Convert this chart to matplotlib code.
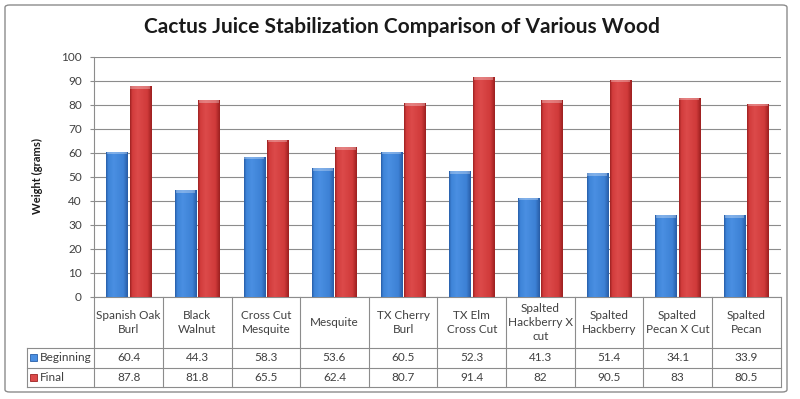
import numpy as np
import matplotlib
matplotlib.use("Agg")
import matplotlib.pyplot as plt
from matplotlib.colors import LinearSegmentedColormap
from matplotlib.transforms import blended_transform_factory
from matplotlib.patches import FancyBboxPatch, Rectangle
from matplotlib.lines import Line2D

categories = ["Spanish Oak\nBurl", "Black\nWalnut", "Cross Cut\nMesquite", "Mesquite",
              "TX Cherry\nBurl", "TX Elm\nCross Cut", "Spalted\nHackberry X\ncut",
              "Spalted\nHackberry", "Spalted\nPecan X Cut", "Spalted\nPecan"]
beginning = [60.4, 44.3, 58.3, 53.6, 60.5, 52.3, 41.3, 51.4, 34.1, 33.9]
final = [87.8, 81.8, 65.5, 62.4, 80.7, 91.4, 82, 90.5, 83, 80.5]
series_names = ["Beginning", "Final"]
title = "Cactus Juice Stabilization Comparison of Various Wood"
ylabel = "Weight (grams)"
yticks = list(range(0, 101, 10))

W, H = 800, 399
plt.rcParams['font.family'] = ['Lato', 'DejaVu Sans']
fig = plt.figure(figsize=(W / 100, H / 100), dpi=100)
fig.patch.set_facecolor('white')

def fy(y):
    return 1 - y / H

def fx(x):
    return x / W

# plot area in pixels
L, R, T, B = 94.3, 780.5, 56.7, 296.7
ax = fig.add_axes([fx(L), fy(B), fx(R - L), (B - T) / H])

n = len(categories)
x = np.arange(n)
bw = 0.31
off = 0.17

blue_cmap = LinearSegmentedColormap.from_list(
    "b", [(0, "#285ea8"), (0.1, "#3e84d8"), (0.35, "#4a8fe2"), (0.8, "#3d81d5"), (1, "#285ca6")])
red_cmap = LinearSegmentedColormap.from_list(
    "r", [(0, "#9e2222"), (0.1, "#d23c3c"), (0.35, "#dc4a4a"), (0.8, "#d03a3a"), (1, "#9c2020")])

bars_b = ax.bar(x - off, beginning, bw, color="#3e84d8", zorder=2, edgecolor="none")
bars_f = ax.bar(x + off, final, bw, color="#d23c3c", zorder=2, edgecolor="none")

grad = np.linspace(0, 1, 64).reshape(1, -1)
for bars, cmap in ((bars_b, blue_cmap), (bars_f, red_cmap)):
    for b in bars:
        x0, w, h = b.get_x(), b.get_width(), b.get_height()
        im = ax.imshow(grad, extent=[x0, x0 + w, 0, h], aspect='auto', cmap=cmap,
                       zorder=3, interpolation='bilinear')
        im.set_clip_path(b)
        # top bevel highlight
        ax.add_patch(Rectangle((x0 + w * 0.04, h - 1.1), w * 0.92, 1.1, facecolor='white',
                               alpha=0.3, edgecolor='none', zorder=4))

ax.set_xlim(-0.5, n - 0.5)
ax.set_ylim(0, 100)
ax.set_yticks(yticks)
ax.set_yticklabels([str(v) for v in yticks], fontsize=8.5, color="#404040")
ax.set_xticks([])
ax.tick_params(axis='y', length=3, color="#8c8c8c", pad=6)
ax.yaxis.grid(True, color="#8c8c8c", linewidth=0.8, zorder=0)
ax.set_axisbelow(True)
for s in ['top', 'right']:
    ax.spines[s].set_visible(False)
ax.spines['left'].set_color("#8c8c8c")
ax.spines['bottom'].set_color("#8c8c8c")
ax.set_facecolor('none')

# table
tr = blended_transform_factory(ax.transData, fig.transFigure)
lc = "#8c8c8c"
row1, row2, row3 = 348.0, 367.7, 387.0
for i in range(n + 1):
    fig.add_artist(Line2D([i - 0.5, i - 0.5], [fy(B), fy(row3)], transform=tr, color=lc, lw=0.8))
for yy in (row1, row2, row3):
    fig.add_artist(Line2D([fx(26.7), fx(R)], [fy(yy), fy(yy)], transform=fig.transFigure,
                          color=lc, lw=0.8))
fig.add_artist(Line2D([fx(26.7), fx(26.7)], [fy(row1), fy(row3)], transform=fig.transFigure,
                      color=lc, lw=0.8))

tc = "#404040"
for i, c in enumerate(categories):
    fig.text(i, fy((B + row1) / 2), c, transform=tr, ha='center', va='center',
             fontsize=8.5, color=tc, linespacing=1.3)
for vals, yy in ((beginning, (row1 + row2) / 2), (final, (row2 + row3) / 2)):
    for i, v in enumerate(vals):
        fig.text(i, fy(yy), f"{v:g}", transform=tr, ha='center', va='center',
                 fontsize=8.5, color=tc)

for name, cmap, yy in ((series_names[0], blue_cmap, (row1 + row2) / 2),
                       (series_names[1], red_cmap, (row2 + row3) / 2)):
    fig.add_artist(Rectangle((fx(30), fy(yy + 3.5)), 7 / W, 7 / H, transform=fig.transFigure,
                             facecolor=cmap(0.35), edgecolor=cmap(0.0), lw=0.6))
    fig.text(fx(40), fy(yy), name, ha='left', va='center', fontsize=8.5, color=tc)

fig.text(fx(402), fy(27), title, ha='center', va='center', fontsize=15, fontweight='bold',
         color="#1a1a1a")
fig.text(fx(37), fy(176), ylabel, ha='center', va='center', rotation=90, fontsize=8,
         fontweight='bold', color="#1a1a1a")

fig.add_artist(FancyBboxPatch((fx(5), fy(392)), fx(782), (387) / H, transform=fig.transFigure,
                              boxstyle="round,pad=0,rounding_size=0.006",
                              facecolor='none', edgecolor="#8c8c8c", lw=1.0))

fig.savefig("out.png", dpi=100, facecolor='white')
